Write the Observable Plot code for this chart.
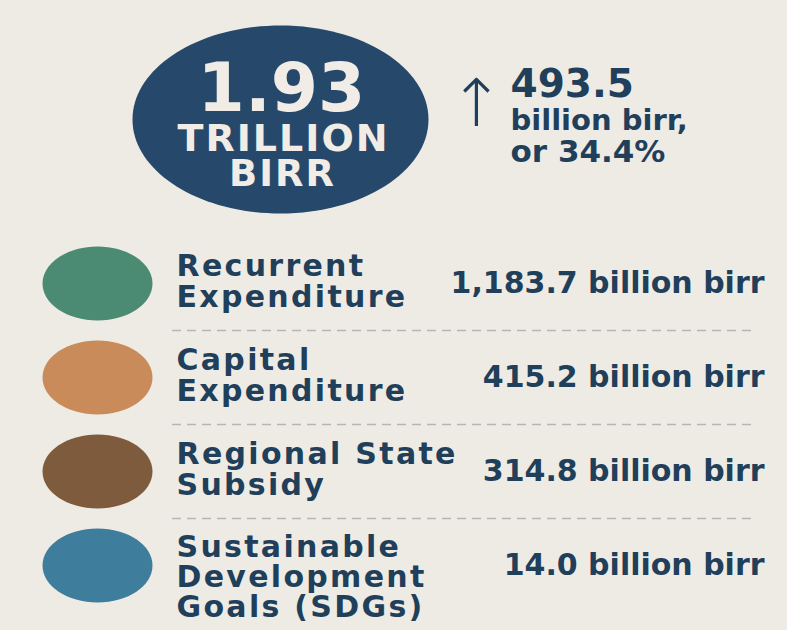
<!DOCTYPE html>
<html><head><meta charset="utf-8">
<script src="https://cdn.jsdelivr.net/npm/d3@7"></script>
<script src="https://cdn.jsdelivr.net/npm/@observablehq/plot@0.6"></script>
<style>
html,body{margin:0;padding:0;background:#eeebe5;}
#chart svg{display:block;}
</style></head><body><div id="chart"></div>
<script>
// ---- data ----
const categories = ["Recurrent Expenditure", "Capital Expenditure", "Regional State Subsidy", "Sustainable Development Goals (SDGs)"];
const labelLines = ["Recurrent\nExpenditure", "Capital\nExpenditure", "Regional State\nSubsidy", "Sustainable\nDevelopment\nGoals (SDGs)"];
const values = [1183.7, 415.2, 314.8, 14.0];
const colors = ["#4b8a73", "#c98b59", "#7e5b3d", "#3e7d9b"];
const totalTrillion = 1.93;
const increaseBillion = 493.5;
const increasePct = 34.4;
const unit = "billion birr";

const rows = categories.map((c, i) => ({category: c, label: labelLines[i], value: values[i], color: colors[i]}));
const navy = "#1f3f5a";

function ellipseSymbol(k) {
  return {
    draw(ctx, size) {
      const ry = Math.sqrt(size / Math.PI), rx = ry * k, c = 0.5522847;
      ctx.moveTo(rx, 0);
      ctx.bezierCurveTo(rx, c * ry, c * rx, ry, 0, ry);
      ctx.bezierCurveTo(-c * rx, ry, -rx, c * ry, -rx, 0);
      ctx.bezierCurveTo(-rx, -c * ry, -c * rx, -ry, 0, -ry);
      ctx.bezierCurveTo(c * rx, -ry, rx, -c * ry, rx, 0);
      ctx.closePath();
    }
  };
}

const font = "DejaVu Sans";
const chart = Plot.plot({
  width: 787,
  height: 630,
  margin: 0,
  style: {background: "#eeebe5", fontFamily: font},
  x: {type: "identity", axis: null},
  y: {type: "point", domain: categories, range: [282, 565], padding: 0, axis: null},
  color: {type: "identity"},
  marks: [
    Plot.ruleY(categories.slice(0, -1), {y: d => d, dy: 47, x1: 172, x2: 757, stroke: "#b3b6b9", strokeWidth: 1.5, strokeDasharray: "9,6"}),
    Plot.dot(rows, {x: 97, y: "category", r: 37, fill: "color", symbol: ellipseSymbol(55 / 37)}),
    Plot.text(rows, {filter: (d, i) => i < 3, x: 176, y: "category", text: "label", textAnchor: "start", lineAnchor: "middle", fontSize: 30, fontWeight: "bold", lineHeight: 1.04, fill: navy, dy: -2, ariaDescription: "labels"}),
    Plot.text(rows, {filter: (d, i) => i === 3, x: 176, y: "category", text: "label", textAnchor: "start", lineAnchor: "middle", fontSize: 30, fontWeight: "bold", lineHeight: 1.0, fill: navy, dy: 12, ariaDescription: "labels"}),
    Plot.text(rows, {x: 764, y: "category", text: d => d3.format(",.1f")(d.value) + " " + unit, textAnchor: "end", lineAnchor: "middle", fontSize: 30, fontWeight: "bold", fill: navy}),
    // headline total
    Plot.dot([totalTrillion], {x: 280, frameAnchor: "top", dy: 119, r: 94, fill: "#26486a", symbol: ellipseSymbol(148 / 94)}),
    Plot.text([totalTrillion], {x: 281, frameAnchor: "top", dy: 110, lineAnchor: "bottom", text: d => d3.format(".2f")(d), fontSize: 68, fontWeight: "bold", fill: "#f1ede6"}),
    Plot.text(["TRILLION"], {x: 283, frameAnchor: "top", dy: 150, lineAnchor: "bottom", text: d => d, fontSize: 38, fontWeight: "bold", fill: "#f1ede6", ariaDescription: "trillion"}),
    Plot.text(["BIRR"], {x: 282, frameAnchor: "top", dy: 185, lineAnchor: "bottom", text: d => d, fontSize: 37, fontWeight: "bold", fill: "#f1ede6", ariaDescription: "trillion"}),
    // increase
    Plot.text(["\u2191"], {x: 476, frameAnchor: "top", dy: 125, lineAnchor: "bottom", text: d => d, fontSize: 66, fontWeight: 200, fill: navy}),
    Plot.text([increaseBillion], {x: 510, frameAnchor: "top", dy: 96, lineAnchor: "bottom", textAnchor: "start", text: d => d3.format(".1f")(d), fontSize: 39, fontWeight: "bold", fill: navy}),
    Plot.text([unit + ","], {x: 510, frameAnchor: "top", dy: 129, lineAnchor: "bottom", textAnchor: "start", text: d => d, fontSize: 29, fontWeight: "bold", fill: navy}),
    Plot.text([increasePct], {x: 510, frameAnchor: "top", dy: 161, lineAnchor: "bottom", textAnchor: "start", text: d => "or " + d3.format(".1f")(d) + "%", fontSize: 31, fontWeight: "bold", fill: navy})
  ]
});
d3.select(chart).selectAll('g[aria-description="labels"] text').style("letter-spacing", "2.3px");
d3.select(chart).selectAll('g[aria-description="trillion"] text').style("letter-spacing", "2px");
document.getElementById("chart").appendChild(chart);
</script>
</body></html>
